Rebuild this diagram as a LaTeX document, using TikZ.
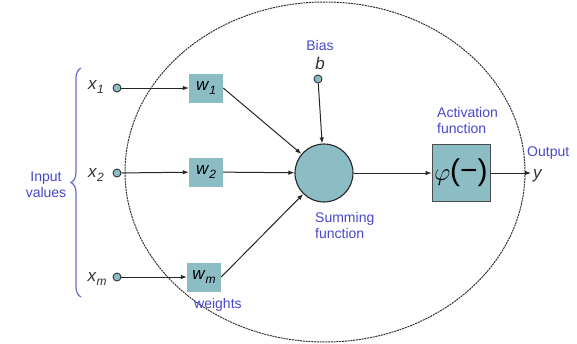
\documentclass[tikz,border=0pt]{standalone}
\usepackage{fontspec}
\setmainfont{Liberation Sans}
\usetikzlibrary{arrows.meta,decorations.pathreplacing}
\definecolor{boxfill}{HTML}{8CBCC4}
\definecolor{lblue}{HTML}{4848CC}
\definecolor{bracec}{HTML}{6A6ACC}
\newcommand{\myvar}[2]{\textit{#1}\raisebox{-0.35ex}{\fontsize{12}{12}\selectfont\textit{#2}}}
\tikzset{
  wbox/.style={draw=none,fill=boxfill,minimum width=34pt,minimum height=29pt,inner sep=0pt,font=\fontsize{17}{17}\selectfont},
  inp/.style={circle,draw=black!80,fill=boxfill,minimum size=8pt,inner sep=0pt,line width=0.9pt},
  lbl/.style={text=lblue,font=\fontsize{14}{16}\selectfont,inner sep=0pt},
  varl/.style={font=\fontsize{17}{17}\selectfont,inner sep=0pt,text=black!80},
  conn/.style={-{Latex[length=6pt,width=4.5pt]},line width=1pt,black!85}
}
\begin{document}
\begin{tikzpicture}[x=1pt,y=-1pt]
\useasboundingbox (0,0) rectangle (577,343);
\fill[white] (0,0) rectangle (577,343);
% ellipse
\draw[line width=1pt,black!80,dash pattern=on 2pt off 0.8pt] (325,172) ellipse [x radius=200pt,y radius=170pt];
% inputs
\node[inp] (x1) at (117,88) {};
\node[inp] (x2) at (117,173) {};
\node[inp] (xm) at (117,277) {};
\node[varl] (lx1) at (96,87) {\myvar{x}{1}};
\node[varl] (lx2) at (96,175) {\myvar{x}{2}};
\node[varl] (lxm) at (97,279) {\myvar{x}{m}};
% brace
\draw[bracec,line width=1.2pt,decorate,decoration={brace,amplitude=10pt}] (81,297) -- (81,68);
\node[lbl,align=center] (inv) at (46,185) {Input\\values};
% weights
\node[wbox] (w1) at (206,88) {\myvar{w}{1}};
\node[wbox] (w2) at (206,172) {\myvar{w}{2}};
\node[wbox] (wm) at (204,277) {\myvar{w}{m}};
\node[lbl,anchor=west] (wl) at (194,305) {weights};
% sum
\node[circle,draw=black!85,fill=boxfill,minimum size=58pt,inner sep=0pt,line width=1.1pt] (sum) at (324,173) {};
\node[lbl,anchor=north west,align=left] (suml) at (315,212) {Summing\\function};
% bias
\node[lbl] (bias) at (320,45) {Bias};
\node[varl] (bl) at (320,63) {\textit{b}};
\node[inp] (b) at (318,79) {};
% activation
\node[draw=black!70,fill=boxfill,minimum width=58pt,minimum height=57pt,inner sep=0pt,line width=0.8pt,font=\fontsize{30}{30}\selectfont] (act) at (461,173) {$\varphi$(−)};
\node[lbl,anchor=west,align=left] (actl) at (437,120) {Activation\\function};
\node[lbl,anchor=west] (outl) at (527,153) {Output};
\coordinate (yend) at (531,173);
\node[varl,anchor=west] (yl) at (533,176) {\textit{y}};
% connectors
\draw[conn] (x1) -- (w1);
\draw[conn] (x2) -- (w2);
\draw[conn] (xm) -- (wm);
\draw[conn] (w1.east) -- (sum);
\draw[conn] (w2) -- (sum);
\draw[conn] (wm.east) -- (sum);
\draw[conn] (b) -- (sum);
\draw[conn] (sum) -- (act);
\draw[conn] (act) -- (yend);
\end{tikzpicture}
\end{document}
